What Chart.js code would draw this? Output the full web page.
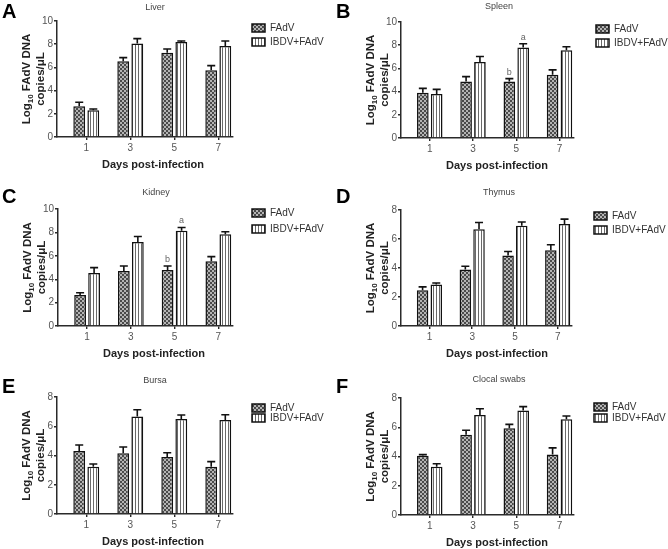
<!DOCTYPE html>
<html>
<head>
<meta charset="utf-8">
<script src="https://cdn.jsdelivr.net/npm/chart.js@4.4.1/dist/chart.umd.min.js"></script>
<style>
  body { margin: 0; background: #fff; }
  #wrap { position: relative; width: 668px; height: 549px; }
  #wrap canvas { position: absolute; }
</style>
</head>
<body>
<div id="wrap"></div>
<script>
// days post-infection
const dayValues = [1, 3, 5, 7];
const dayLabels = ['1', '3', '5', '7'];
const seriesNames = ['FAdV', 'IBDV+FAdV'];

// log10 copies/uL, mean and SEM
const liverFAdV = [2.65, 6.52, 7.27, 5.75];
const liverFAdVErr = [0.35, 0.32, 0.32, 0.4];
const liverIBDV = [2.3, 8.05, 8.19, 7.84];
const liverIBDVErr = [0.11, 0.43, 0.09, 0.44];

const spleenFAdV = [3.9, 4.88, 4.88, 5.46];
const spleenFAdVErr = [0.38, 0.41, 0.24, 0.41];
const spleenIBDV = [3.79, 6.56, 7.8, 7.57];
const spleenIBDVErr = [0.4, 0.46, 0.32, 0.29];

const kidneyFAdV = [2.64, 4.7, 4.79, 5.53];
const kidneyFAdVErr = [0.2, 0.43, 0.34, 0.4];
const kidneyIBDV = [4.53, 7.19, 8.14, 7.85];
const kidneyIBDVErr = [0.46, 0.46, 0.28, 0.2];

const thymusFAdV = [2.47, 3.89, 4.86, 5.23];
const thymusFAdVErr = [0.23, 0.23, 0.28, 0.37];
const thymusIBDV = [2.86, 6.68, 6.91, 7.03];
const thymusIBDVErr = [0.11, 0.46, 0.26, 0.34];

const bursaFAdV = [4.3, 4.15, 3.9, 3.23];
const bursaFAdVErr = [0.42, 0.43, 0.29, 0.35];
const bursaIBDV = [3.23, 6.67, 6.49, 6.42];
const bursaIBDVErr = [0.19, 0.46, 0.28, 0.37];

const swabFAdV = [4.05, 5.48, 5.93, 4.14];
const swabFAdVErr = [0.08, 0.32, 0.27, 0.45];
const swabIBDV = [3.3, 6.84, 7.14, 6.55];
const swabIBDVErr = [0.2, 0.43, 0.27, 0.22];

// significance letters
const noSig = ['', '', '', ''];
const sigFAdV = ['', '', 'b', ''];
const sigIBDV = ['', '', 'a', ''];

const panels = [
  { letter: 'A', title: 'Liver', fadv: liverFAdV, fadvErr: liverFAdVErr, ibdv: liverIBDV, ibdvErr: liverIBDVErr, yMax: 10, yStep: 2, sigA: noSig, sigB: noSig },
  { letter: 'B', title: 'Spleen', fadv: spleenFAdV, fadvErr: spleenFAdVErr, ibdv: spleenIBDV, ibdvErr: spleenIBDVErr, yMax: 10, yStep: 2, sigA: sigFAdV, sigB: sigIBDV },
  { letter: 'C', title: 'Kidney', fadv: kidneyFAdV, fadvErr: kidneyFAdVErr, ibdv: kidneyIBDV, ibdvErr: kidneyIBDVErr, yMax: 10, yStep: 2, sigA: sigFAdV, sigB: sigIBDV },
  { letter: 'D', title: 'Thymus', fadv: thymusFAdV, fadvErr: thymusFAdVErr, ibdv: thymusIBDV, ibdvErr: thymusIBDVErr, yMax: 8, yStep: 2, sigA: noSig, sigB: noSig },
  { letter: 'E', title: 'Bursa', fadv: bursaFAdV, fadvErr: bursaFAdVErr, ibdv: bursaIBDV, ibdvErr: bursaIBDVErr, yMax: 8, yStep: 1, sigA: noSig, sigB: noSig },
  { letter: 'F', title: 'Clocal swabs', fadv: swabFAdV, fadvErr: swabFAdVErr, ibdv: swabIBDV, ibdvErr: swabIBDVErr, yMax: 8, yStep: 2, sigA: noSig, sigB: noSig }
];

// where each panel sits on the page
const boxes = [
  { left: 0,   top: 0,   h: 180, axisX: 57, plotTop: 21, plotBottom: 137, plotRight: 233, legX: 252, legY: [28, 42], titleY: 8,  letterY: 2 },
  { left: 334, top: 0,   h: 180, axisX: 67, plotTop: 22, plotBottom: 138, plotRight: 240, legX: 262, legY: [29, 43], titleY: 7,  letterY: 2 },
  { left: 0,   top: 180, h: 185, axisX: 58, plotTop: 29, plotBottom: 146, plotRight: 233, legX: 252, legY: [33, 49], titleY: 13, letterY: 7 },
  { left: 334, top: 180, h: 185, axisX: 67, plotTop: 30, plotBottom: 146, plotRight: 238, legX: 260, legY: [36, 50], titleY: 13, letterY: 7 },
  { left: 0,   top: 365, h: 184, axisX: 57, plotTop: 32, plotBottom: 149, plotRight: 233, legX: 252, legY: [43, 53], titleY: 16, letterY: 12 },
  { left: 334, top: 365, h: 184, axisX: 67, plotTop: 33, plotBottom: 150, plotRight: 240, legX: 260, legY: [42, 53], titleY: 15, letterY: 12 }
];

const FONT = '"Liberation Sans", Arial, sans-serif';
const AXIS = '#2a2a2a';

function checkerPattern(ctx) {
  let c = document.createElement('canvas');
  c.width = 4; c.height = 4;
  let g = c.getContext('2d');
  g.fillStyle = '#b4b4b4'; g.fillRect(0, 0, 4, 4);
  g.fillStyle = '#4a4a4a';
  g.fillRect(0, 0, 2, 2); g.fillRect(2, 2, 2, 2);
  return ctx.createPattern(c, 'repeat');
}

function stripePattern(ctx) {
  let c = document.createElement('canvas');
  c.width = 3; c.height = 3;
  let g = c.getContext('2d');
  g.fillStyle = '#ffffff'; g.fillRect(0, 0, 3, 3);
  g.fillStyle = '#6a6a6a'; g.fillRect(0, 0, 1, 3);
  return ctx.createPattern(c, 'repeat');
}

const decorPlugin = {
  id: 'decor',
  afterDatasetsDraw(chart) {
    let ctx = chart.ctx;
    let p = chart.options.plugins.decor;
    let yScale = chart.scales.y;
    let area = chart.chartArea;
    ctx.save();
    // error bars (upper half only) and letters
    chart.data.datasets.forEach((ds, di) => {
      let meta = chart.getDatasetMeta(di);
      meta.data.forEach((bar, i) => {
        let top = yScale.getPixelForValue(ds.data[i].y + ds.err[i]);
        ctx.strokeStyle = '#111';
        ctx.lineWidth = 1.6;
        ctx.beginPath();
        ctx.moveTo(bar.x, bar.y);
        ctx.lineTo(bar.x, top);
        ctx.moveTo(bar.x - 4, top);
        ctx.lineTo(bar.x + 4, top);
        ctx.stroke();
        if (ds.sig[i]) {
          ctx.fillStyle = '#666';
          ctx.font = '9px ' + FONT;
          ctx.textAlign = 'center';
          ctx.textBaseline = 'alphabetic';
          ctx.fillText(ds.sig[i], bar.x, top - 4);
        }
      });
    });
    // panel letter
    ctx.fillStyle = '#000';
    ctx.font = 'bold 20px ' + FONT;
    ctx.textAlign = 'left';
    ctx.textBaseline = 'top';
    ctx.fillText(p.letter, 2, p.box.letterY);
    // title
    ctx.fillStyle = '#444';
    ctx.font = '9px ' + FONT;
    ctx.textAlign = 'center';
    ctx.textBaseline = 'middle';
    ctx.fillText(p.title, area.left + 98, p.box.titleY);
    // x title
    ctx.fillStyle = '#222';
    ctx.font = 'bold 11px ' + FONT;
    ctx.fillText('Days post-infection', area.left + 96, area.bottom + 28);
    // y title with subscript
    let cy = (area.top + area.bottom) / 2;
    ctx.translate(area.left - 30, cy);
    ctx.rotate(-Math.PI / 2);
    let big = 'bold 11.5px ' + FONT, small = 'bold 8px ' + FONT;
    ctx.font = big; let w1 = ctx.measureText('Log').width;
    let w3 = ctx.measureText(' FAdV DNA').width;
    ctx.font = small; let w2 = ctx.measureText('10').width;
    let x0 = -(w1 + w2 + w3) / 2;
    ctx.textAlign = 'left';
    ctx.font = big; ctx.fillText('Log', x0, 0);
    ctx.font = small; ctx.fillText('10', x0 + w1, 4);
    ctx.font = big; ctx.fillText(' FAdV DNA', x0 + w1 + w2, 0);
    ctx.textAlign = 'center';
    ctx.fillText('copies/\u03bcL', 0, 14);
    ctx.restore();
    // legend
    ctx.save();
    chart.data.datasets.forEach((ds, di) => {
      let ly = p.box.legY[di];
      ctx.fillStyle = ds.backgroundColor;
      ctx.fillRect(p.box.legX, ly - 4, 13, 8);
      ctx.strokeStyle = '#111';
      ctx.lineWidth = 1.5;
      ctx.strokeRect(p.box.legX, ly - 4, 13, 8);
      ctx.fillStyle = '#333';
      ctx.font = '10px ' + FONT;
      ctx.textAlign = 'left';
      ctx.textBaseline = 'middle';
      ctx.fillText(ds.label, p.box.legX + 18, ly);
    });
    ctx.restore();
  }
};

const wrap = document.getElementById('wrap');

panels.forEach((panel, k) => {
  let box = boxes[k];
  let canvas = document.createElement('canvas');
  canvas.width = 334; canvas.height = box.h;
  canvas.style.left = box.left + 'px';
  canvas.style.top = box.top + 'px';
  wrap.appendChild(canvas);
  let ctx = canvas.getContext('2d');

  let axisGrid = { display: true, offset: false, drawOnChartArea: false, drawTicks: true, tickLength: 3, color: AXIS, lineWidth: 1.4 };
  let axisBorder = { display: true, color: AXIS, width: 1.5 };

  new Chart(ctx, {
    type: 'bar',
    data: {
      datasets: [
        {
          label: seriesNames[0],
          data: dayValues.map((d, i) => ({ x: d, y: panel.fadv[i] })),
          err: panel.fadvErr,
          sig: panel.sigA,
          backgroundColor: checkerPattern(ctx),
          borderColor: '#111',
          borderWidth: 1.5
        },
        {
          label: seriesNames[1],
          data: dayValues.map((d, i) => ({ x: d, y: panel.ibdv[i] })),
          err: panel.ibdvErr,
          sig: panel.sigB,
          backgroundColor: stripePattern(ctx),
          borderColor: '#111',
          borderWidth: 1.5
        }
      ]
    },
    options: {
      responsive: false,
      animation: false,
      devicePixelRatio: 1,
      categoryPercentage: 0.64,
      barPercentage: 0.84,
      layout: { padding: { left: 0, top: box.plotTop, right: 334 - box.plotRight, bottom: 0 } },
      plugins: {
        legend: { display: false },
        tooltip: { enabled: false },
        decor: { letter: panel.letter, title: panel.title, box: box }
      },
      scales: {
        x: {
          type: 'linear',
          offset: false,
          min: -0.33,
          max: 7.67,
          afterBuildTicks: s => { s.ticks = dayValues.map(v => ({ value: v })); },
          afterFit: s => { s.height = box.h - box.plotBottom; },
          ticks: {
            autoSkip: false,
            callback: v => dayLabels[dayValues.indexOf(v)],
            color: '#555',
            font: { family: FONT, size: 10 },
            padding: 2
          },
          grid: axisGrid,
          border: axisBorder
        },
        y: {
          min: 0,
          max: panel.yMax,
          afterFit: s => { s.width = box.axisX; },
          ticks: {
            stepSize: panel.yStep,
            color: '#555',
            font: { family: FONT, size: 10 },
            padding: 1
          },
          grid: axisGrid,
          border: axisBorder
        }
      }
    },
    plugins: [decorPlugin]
  });
});
</script>
</body>
</html>
